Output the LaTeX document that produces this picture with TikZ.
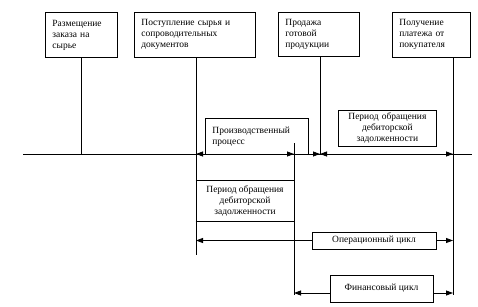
\documentclass[tikz,border=0pt]{standalone}
\usepackage{fontspec}
\setmainfont{Liberation Serif}
\usetikzlibrary{arrows.meta}

\tikzset{
    box/.style={draw, line width=0.8pt, anchor=north west, align=left,
        inner xsep=7pt, inner ysep=0pt},
    cyclebox/.style={draw, line width=0.8pt, fill=white, align=center,
        inner sep=0pt},
}

\begin{document}
\begin{tikzpicture}[x=1pt,y=-1pt,line width=0.8pt,
        font=\fontsize{9.5}{11}\selectfont,
        >={Triangle[length=7pt,width=5pt]}]
            \useasboundingbox (0,0) rectangle (478,306);

            % time axis
            \coordinate (axl) at (23,154);
            \coordinate (axr) at (472,154);
            \coordinate (t2) at (196,154);
            \coordinate (t3) at (294,154);
            \coordinate (t4) at (320,154);
            \coordinate (t5) at (453,154);
            \coordinate (v2) at (196,255);
            \coordinate (v3top) at (294,143);
            \coordinate (v3) at (294,295);
            \coordinate (v5) at (453,295);

            \draw (axl)--(axr);

            % events
            \node[box, text width=58pt, minimum height=45pt] (zakaz) at (45,12)
                {Размещение\\заказа на\\сырье};
            \node[box, text width=107pt, minimum height=45pt] (postup) at (134,12)
                {Поступление сырья и\\сопроводительных\\документов};
            \node[box, text width=67pt, minimum height=44pt] (prodazha) at (278,12)
                {Продажа\\готовой\\продукции};
            \node[box, text width=64pt, minimum height=45pt] (platezh) at (392,12)
                {Получение\\платежа от\\покупателя};

            \draw (zakaz.south) -- (zakaz.south |- axl);
            \draw (postup.south -| v2) -- (v2);
            \draw (prodazha.south -| t4) -- (t4);
            \draw (platezh.south -| v5) -- (v5);
            \draw (v3top) -- (v3);

            % periods on the axis
            \node[box, text width=89pt, minimum height=36pt] (proizv) at (205,118)
                {Производственный\\процесс};
            \node[box, align=center, inner xsep=0pt, text width=98pt,
                minimum height=36pt] (debit) at (338,110)
                {Период обращения\\дебиторской\\задолженности};

            \draw[<->] (t2)--(t3);
            \draw[->] (t3)--(t4);
            \draw[<->] (t4)--(t5);

            % below the axis
            \node[align=center, inner sep=0pt, minimum width=98pt,
                minimum height=40pt] (debitlow) at (245,201)
                {Период обращения\\дебиторской\\задолженности};
            \draw (debitlow.north west) -- (debitlow.north east);
            \draw (debitlow.south west) -- (debitlow.south east);

            \node[cyclebox, minimum width=124pt, minimum height=17pt] (opcycle)
                at (374,240.5) {Операционный цикл};
            \draw[->] (opcycle.west) -- (opcycle.west -| v2);
            \draw[->] (opcycle.east) -- (opcycle.east -| v5);

            \coordinate (fin) at (381.5,293);
            \node[cyclebox, minimum width=103pt, minimum height=27pt] (fincycle)
                at (381.5,288.5) {Финансовый цикл};
            \draw[->] (fin -| fincycle.west) -- (fin -| v3);
            \draw[->] (fin -| fincycle.east) -- (fin -| v5);
        \end{tikzpicture}
\end{document}
